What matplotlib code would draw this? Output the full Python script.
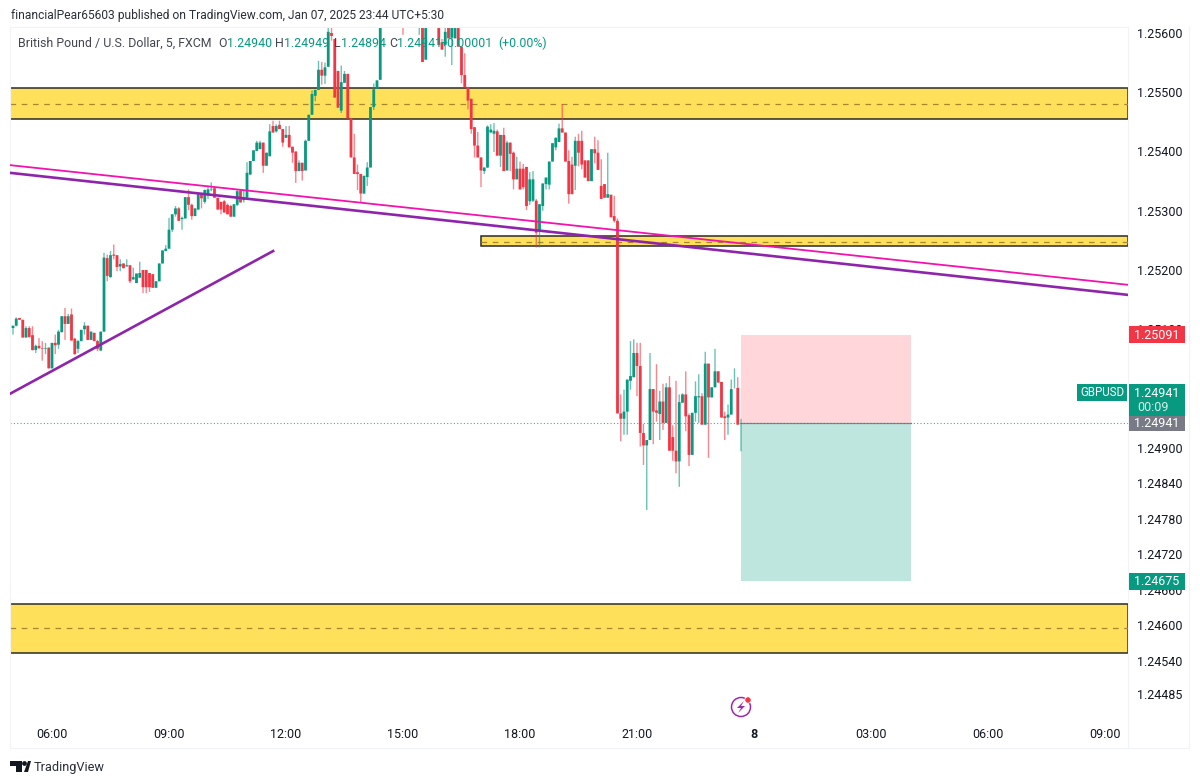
"""
GBPUSD 5 minute chart with supply / demand zones.
"""

import matplotlib.pyplot as plt
import numpy as np
from matplotlib.patches import Circle, Polygon, Rectangle

# candles in points above 1.24000, one bar every 5 minutes from 05:00
opens = [
    1102, 1106, 1119, 1116, 1086, 1102, 1090, 1065, 1072, 1068,
    1067, 1069, 1034, 1077, 1074, 1095, 1122, 1109, 1125, 1084,
    1067, 1080, 1100, 1106, 1082, 1094, 1080, 1064, 1096, 1220,
    1188, 1226, 1225, 1206, 1211, 1206, 1208, 1184, 1178, 1187,
    1200, 1200, 1195, 1193, 1170, 1181, 1211, 1232, 1236, 1268,
    1294, 1304, 1286, 1287, 1323, 1310, 1291, 1302, 1329, 1315,
    1326, 1336, 1338, 1322, 1315, 1316, 1310, 1308, 1290, 1310,
    1334, 1318, 1322, 1361, 1384, 1401, 1404, 1415, 1376, 1392,
    1443, 1434, 1445, 1438, 1423, 1428, 1408, 1400, 1367, 1381,
    1368, 1418, 1462, 1494, 1504, 1538, 1528, 1543, 1600, 1590,
    1536, 1469, 1516, 1531, 1456, 1390, 1365, 1362, 1329, 1357,
    1373, 1475, 1506, 1521, 1640, 1650, 1655, 1645, 1650, 1640,
    1650, 1645, 1640, 1650, 1645, 1640, 1640, 1555, 1640, 1650,
    1645, 1640, 1584, 1580, 1625, 1592, 1591, 1640, 1577, 1529,
    1509, 1489, 1441, 1410, 1390, 1367, 1373, 1432, 1430, 1434,
    1393, 1428, 1368, 1415, 1398, 1353, 1371, 1371, 1374, 1316,
    1317, 1317, 1266, 1308, 1345, 1344, 1383, 1407, 1416, 1439,
    1432, 1384, 1378, 1376, 1418, 1418, 1385, 1385, 1350, 1404,
    1398, 1342, 1345, 1322, 1327, 1291, 1283, 958, 949, 961,
    1013, 1019, 1060, 1038, 925, 904, 913, 999, 963, 957,
    978, 942, 1002, 918, 895, 877, 976, 990, 955, 888,
    959, 985, 987, 939, 1042, 985, 1002, 1029, 1011, 953,
    951, 956, 1000, 1001, 940,
]
highs = [
    1106, 1120, 1119, 1116, 1105, 1105, 1105, 1074, 1085, 1080,
    1077, 1069, 1077, 1091, 1099, 1122, 1136, 1126, 1135, 1085,
    1082, 1099, 1112, 1106, 1096, 1094, 1082, 1096, 1229, 1226,
    1232, 1243, 1225, 1218, 1211, 1218, 1208, 1204, 1194, 1214,
    1200, 1200, 1195, 1193, 1181, 1211, 1233, 1242, 1288, 1294,
    1308, 1306, 1290, 1323, 1336, 1312, 1304, 1328, 1329, 1336,
    1342, 1348, 1340, 1322, 1315, 1318, 1312, 1310, 1311, 1335,
    1335, 1335, 1382, 1384, 1402, 1418, 1418, 1415, 1398, 1446,
    1452, 1446, 1452, 1438, 1443, 1443, 1408, 1400, 1385, 1381,
    1420, 1462, 1503, 1504, 1553, 1551, 1550, 1610, 1612, 1590,
    1536, 1545, 1536, 1531, 1456, 1430, 1378, 1362, 1359, 1382,
    1475, 1515, 1520, 1650, 1660, 1660, 1660, 1660, 1660, 1660,
    1660, 1660, 1660, 1660, 1660, 1660, 1650, 1650, 1660, 1660,
    1660, 1640, 1590, 1625, 1630, 1640, 1640, 1640, 1577, 1566,
    1509, 1489, 1441, 1433, 1390, 1373, 1444, 1446, 1448, 1437,
    1428, 1440, 1418, 1415, 1400, 1391, 1383, 1379, 1374, 1365,
    1367, 1320, 1311, 1346, 1356, 1383, 1414, 1424, 1447, 1480,
    1432, 1402, 1391, 1425, 1430, 1435, 1385, 1385, 1404, 1425,
    1419, 1387, 1345, 1398, 1327, 1325, 1287, 990, 998, 1015,
    1080, 1083, 1077, 1077, 940, 913, 1060, 999, 1041, 996,
    1008, 1009, 1021, 938, 1013, 990, 992, 1029, 958, 959,
    1012, 1024, 992, 1062, 1042, 1002, 1067, 1029, 1011, 961,
    973, 1015, 1034, 1019, 949,
]
lows = [
    1091, 1105, 1116, 1086, 1086, 1086, 1064, 1060, 1067, 1047,
    1058, 1034, 1034, 1058, 1067, 1095, 1082, 1109, 1081, 1057,
    1060, 1080, 1091, 1082, 1082, 1080, 1063, 1064, 1096, 1181,
    1187, 1218, 1198, 1198, 1203, 1206, 1178, 1184, 1178, 1187,
    1161, 1161, 1163, 1170, 1170, 1181, 1211, 1232, 1236, 1264,
    1290, 1283, 1268, 1287, 1301, 1285, 1291, 1302, 1304, 1312,
    1320, 1333, 1322, 1302, 1294, 1297, 1294, 1290, 1290, 1308,
    1314, 1314, 1320, 1361, 1384, 1401, 1404, 1364, 1376, 1392,
    1432, 1432, 1438, 1408, 1423, 1407, 1381, 1347, 1367, 1351,
    1368, 1418, 1462, 1485, 1504, 1513, 1514, 1543, 1587, 1491,
    1474, 1465, 1516, 1456, 1390, 1362, 1335, 1314, 1329, 1342,
    1373, 1470, 1506, 1521, 1625, 1625, 1625, 1625, 1625, 1625,
    1597, 1625, 1625, 1625, 1625, 1597, 1551, 1555, 1625, 1625,
    1625, 1580, 1572, 1560, 1591, 1546, 1591, 1577, 1515, 1509,
    1471, 1430, 1390, 1390, 1340, 1362, 1372, 1432, 1399, 1393,
    1374, 1367, 1368, 1367, 1336, 1353, 1336, 1336, 1301, 1310,
    1315, 1238, 1238, 1300, 1336, 1336, 1383, 1402, 1416, 1432,
    1383, 1312, 1328, 1335, 1375, 1370, 1356, 1350, 1350, 1380,
    1369, 1320, 1322, 1322, 1289, 1280, 958, 911, 922, 922,
    998, 1019, 987, 902, 871, 795, 913, 906, 944, 913,
    930, 942, 895, 878, 857, 834, 976, 928, 869, 888,
    944, 942, 939, 939, 883, 985, 1002, 1010, 951, 913,
    922, 956, 1000, 939, 894,
]
closes = [
    1106, 1118, 1116, 1086, 1102, 1087, 1065, 1072, 1068, 1067,
    1068, 1034, 1077, 1073, 1096, 1122, 1109, 1122, 1081, 1058,
    1080, 1099, 1106, 1082, 1096, 1080, 1067, 1096, 1221, 1190,
    1225, 1224, 1205, 1210, 1203, 1208, 1181, 1188, 1194, 1195,
    1171, 1171, 1171, 1170, 1181, 1211, 1233, 1236, 1268, 1294,
    1304, 1283, 1288, 1323, 1310, 1291, 1304, 1328, 1321, 1335,
    1336, 1337, 1322, 1302, 1302, 1297, 1294, 1290, 1311, 1333,
    1314, 1322, 1364, 1384, 1402, 1415, 1415, 1376, 1398, 1434,
    1432, 1443, 1438, 1415, 1428, 1407, 1398, 1367, 1381, 1367,
    1418, 1462, 1497, 1504, 1538, 1528, 1542, 1602, 1595, 1491,
    1474, 1517, 1531, 1456, 1390, 1362, 1362, 1329, 1359, 1373,
    1475, 1505, 1520, 1640, 1650, 1655, 1645, 1650, 1640, 1650,
    1640, 1640, 1650, 1645, 1640, 1650, 1551, 1640, 1650, 1645,
    1640, 1580, 1572, 1602, 1591, 1640, 1640, 1577, 1529, 1509,
    1486, 1438, 1410, 1390, 1368, 1373, 1442, 1437, 1435, 1393,
    1428, 1367, 1415, 1396, 1353, 1371, 1336, 1340, 1308, 1353,
    1353, 1263, 1311, 1346, 1356, 1383, 1414, 1423, 1439, 1432,
    1383, 1328, 1328, 1418, 1398, 1378, 1356, 1350, 1404, 1397,
    1369, 1320, 1322, 1328, 1289, 1283, 958, 949, 961, 1015,
    1021, 1060, 1038, 925, 904, 913, 999, 961, 959, 978,
    942, 1002, 895, 895, 877, 977, 990, 953, 888, 959,
    987, 987, 939, 1042, 985, 1002, 1029, 1010, 951, 950,
    956, 999, 1000, 939, 941,
]

# axis ticks, x is hours from midnight Jan 7
x_ticks = [6, 9, 12, 15, 18, 21, 24, 27, 30, 33]
x_labels = ["06:00", "09:00", "12:00", "15:00", "18:00", "21:00", "8", "03:00", "06:00", "09:00"]
y_ticks = [1.25600, 1.25500, 1.25400, 1.25300, 1.25200, 1.25100, 1.25000,
           1.24900, 1.24840, 1.24780, 1.24720, 1.24660, 1.24600, 1.24540, 1.24485]

# zones: start hour, top, middle, bottom
zone_starts = [4.92, 17.0, 4.92]
zone_tops = [1.25507, 1.25257, 1.24636]
zone_mids = [1.25480, 1.25248, 1.24596]
zone_bottoms = [1.25455, 1.25240, 1.24554]

# trend lines
pink_x = [4.92, 33.59]
pink_y = [1.25377, 1.25175]
purple_x = [4.92, 33.59]
purple_y = [1.25364, 1.25158]
short_x = [4.92, 11.67]
short_y = [1.24991, 1.25232]

# short position tool
pos_x = [23.67, 28.03]
pos_stop = 1.25091
pos_entry = 1.24941
pos_target = 1.24675
last_price = 1.24941

GREEN = "#089981"
RED = "#F23645"
PURPLE = "#9C27B0"
PINK = "#F212B0"
YELLOW = "#FFE05A"
INK = "#131722"
EDGE = "#F1F3F7"
FONT = "Roboto"

plt.rcParams["font.family"] = [FONT, "DejaVu Sans"]

W, H = 1200, 784
fig = plt.figure(figsize=(W / 100, H / 100), dpi=100, facecolor="white")
ax = fig.add_axes([10 / W, 1 - 748 / H, 1118 / W, 721 / H])

ax.set_xlim(4.923, 33.59)
ax.set_ylim(1.256 - 715 / 59250, 1.256 + 6 / 59250)

# --------------------------------------------------------
# Zones
# --------------------------------------------------------

for start, ztop, mid, bottom in zip(zone_starts, zone_tops, zone_mids, zone_bottoms):
    ax.add_patch(Rectangle((start, bottom), 33.59 - start, ztop - bottom, facecolor=YELLOW,
                           edgecolor="#2A2A2A", linewidth=1.1, zorder=1))
    ax.plot([start, 33.59], [mid, mid], color="#A8862A", linewidth=0.9,
            dashes=(4.5, 4.5), zorder=1.5)

# --------------------------------------------------------
# Position
# --------------------------------------------------------

ax.add_patch(Rectangle((pos_x[0], pos_entry), pos_x[1] - pos_x[0], pos_stop - pos_entry,
                       facecolor="#FFD7DB", edgecolor="none", zorder=1))
ax.add_patch(Rectangle((pos_x[0], pos_target), pos_x[1] - pos_x[0], pos_entry - pos_target,
                       facecolor="#BFE6DE", edgecolor="none", zorder=1))
ax.plot(pos_x, [pos_entry, pos_entry], color="#7D8A86", linewidth=0.9, zorder=1.5)
ax.plot([4.92, 33.59], [last_price, last_price], color=GREEN, linewidth=0.8,
        dashes=(1, 2), alpha=0.8, zorder=1.5)

# --------------------------------------------------------
# Candles
# --------------------------------------------------------

t = 5 + np.arange(len(closes)) / 12
o = 1.24 + np.array(opens) / 100000
h = 1.24 + np.array(highs) / 100000
l = 1.24 + np.array(lows) / 100000
c = 1.24 + np.array(closes) / 100000
colors = [GREEN if b >= a else RED for a, b in zip(o, c)]

wicks = ax.vlines(t, l, h, colors=colors, linewidth=1.0, alpha=0.6, zorder=2)
wicks.set_snap(False)
bodies = ax.bar(t, np.abs(c - o), bottom=np.minimum(o, c), width=2.8 / 39, color=colors, linewidth=0, zorder=2.5)
for body in bodies:
    body.set_snap(False)

# --------------------------------------------------------
# Trend lines
# --------------------------------------------------------

ax.plot(pink_x, pink_y, color=PINK, linewidth=1.3, zorder=3)
ax.plot(purple_x, purple_y, color="#8E24AA", linewidth=1.9, zorder=3)
ax.plot(short_x, short_y, color="#8E24AA", linewidth=1.9, zorder=3)

# --------------------------------------------------------
# Axes
# --------------------------------------------------------

ax.yaxis.tick_right()
ax.set_yticks(y_ticks)
ax.set_yticklabels([f"{v:.5f}" for v in y_ticks])
ax.set_xticks(x_ticks)
ax.set_xticklabels(x_labels)
ax.tick_params(axis="y", length=0, pad=6.5, labelsize=9, labelcolor=INK)
ax.tick_params(axis="x", length=0, pad=-14.5, labelsize=9, labelcolor=INK)
ax.get_xticklabels()[6].set_fontweight("bold")

for side in ["left", "right", "top", "bottom"]:
    ax.spines[side].set_color(EDGE)
    ax.spines[side].set_linewidth(0.8)

# --------------------------------------------------------
# Overlay in pixels: header, legend, badges, logo
# --------------------------------------------------------

top = fig.add_axes([0, 0, 1, 1], zorder=5)
top.set_xlim(0, W)
top.set_ylim(H, 0)
top.axis("off")
top.patch.set_alpha(0)

top.plot([1189, 1189], [27, 748], color=EDGE, linewidth=0.8)
top.plot([1128, 1189], [748, 748], color=EDGE, linewidth=0.8)

top.text(11, 15, "financialPear65603 published on TradingView.com, Jan 07, 2025 23:44 UTC+5:30",
         fontsize=8.65, color="#2A2E39", va="center", ha="left")

legend_parts = [
    (18, "British Pound / U.S. Dollar, 5, FXCM", "#434651"),
    (218, "O", "#434651"), (227, "1.24940", GREEN),
    (275, "H", "#434651"), (284, "1.24949", GREEN),
    (334, "L", "#434651"), (341, "1.24894", GREEN),
    (389, "C", "#434651"), (397, "1.24941", GREEN),
    (441, "+0.00001", GREEN), (498, "(+0.00%)", GREEN),
]
for px, txt, col in legend_parts:
    top.text(px, 43, txt, fontsize=8.9, color=col, va="center", ha="left")


def badge(x0, x1, y0, y1, color):
    top.add_patch(Rectangle((x0, y0), x1 - x0, y1 - y0, facecolor=color, edgecolor="none"))


badge(1129, 1185, 326, 343, RED)
top.text(1157, 335, "1.25091", color="white", fontsize=9, ha="center", va="center")
badge(1077, 1127, 384, 401, GREEN)
top.text(1102, 392.5, "GBPUSD", color="white", fontsize=8.3, ha="center", va="center")
badge(1129, 1185, 384, 416, GREEN)
top.text(1157, 393, "1.24941", color="white", fontsize=9, ha="center", va="center")
top.text(1137, 407, "00:09", color="#D5EFE9", fontsize=9, ha="left", va="center")
badge(1129, 1185, 416, 431, "#787B86")
top.text(1157, 423.5, "1.24941", color="white", fontsize=9, ha="center", va="center")
badge(1129, 1185, 573, 590, GREEN)
top.text(1157, 581.5, "1.24675", color="white", fontsize=9, ha="center", va="center")

# lightning icon above the date label
top.add_patch(Circle((741, 707), 9.5, facecolor="white", edgecolor=PURPLE, linewidth=1.1))
top.add_patch(Polygon([(744, 701), (737, 708), (741, 708), (738, 713), (745, 706), (741, 706)],
                      closed=True, facecolor=PURPLE, edgecolor="none"))
top.add_patch(Circle((748, 700), 3.2, facecolor=RED, edgecolor="white", linewidth=0.6))

# logo
top.add_patch(Polygon([(10, 761), (22, 761), (22, 772), (16, 772), (16, 766), (10, 766)],
                      closed=True, facecolor=INK, edgecolor="none"))
top.add_patch(Circle((24.5, 763.5), 2.4, facecolor=INK, edgecolor="none"))
top.add_patch(Polygon([(24, 772), (28, 761), (31, 761), (28, 772)],
                      closed=True, facecolor=INK, edgecolor="none"))
top.text(34, 767, "TradingView", fontsize=9.2, color="#2A2E39", va="center", ha="left")

fig.savefig("out.png", dpi=100, facecolor="white")
